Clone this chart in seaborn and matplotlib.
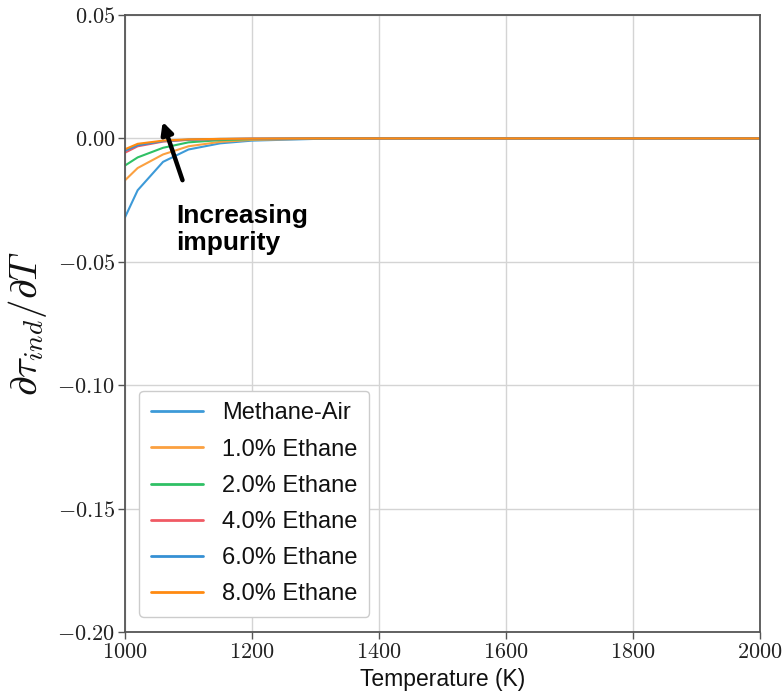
import numpy as np
import pandas as pd
import matplotlib
matplotlib.use("Agg")
import matplotlib.pyplot as plt
import seaborn as sns

# Temperatures (K) at which the sensitivity was evaluated
temperature = [1000, 1020, 1060, 1100, 1150, 1200, 1300, 1400, 1600, 1800, 2000]

# d(tau_ind)/dT for each mixture
methane_air = [-0.032, -0.021, -0.0095, -0.0045, -0.0020, -0.0009, -0.0002, 0.0, 0.0, 0.0, 0.0]
ethane_1 = [-0.017, -0.012, -0.0065, -0.0032, -0.0014, -0.0006, -0.0001, 0.0, 0.0, 0.0, 0.0]
ethane_2 = [-0.011, -0.0077, -0.0038, -0.0016, -0.0007, -0.0003, -0.0001, 0.0, 0.0, 0.0, 0.0]
ethane_4 = [-0.0058, -0.0032, -0.0013, -0.0006, -0.0003, -0.0001, 0.0, 0.0, 0.0, 0.0, 0.0]
ethane_6 = [-0.0050, -0.0028, -0.0011, -0.0005, -0.0002, -0.0001, 0.0, 0.0, 0.0, 0.0, 0.0]
ethane_8 = [-0.0044, -0.0022, -0.0009, -0.0004, -0.0002, -0.0001, 0.0, 0.0, 0.0, 0.0, 0.0]

labels = ["Methane-Air", "1.0% Ethane", "2.0% Ethane", "4.0% Ethane", "6.0% Ethane", "8.0% Ethane"]
colors = ["#3d9ad8", "#fba040", "#2fc065", "#f05a64", "#3590d4", "#ff8a10"]

series = [methane_air, ethane_1, ethane_2, ethane_4, ethane_6, ethane_8]
frames = []
for lab, vals in zip(labels, series):
    frames.append(pd.DataFrame({"T": temperature, "dtau": vals, "mix": lab}))
df = pd.concat(frames, ignore_index=True)

sns.set_style("whitegrid")
plt.rcParams["mathtext.fontset"] = "cm"
plt.rcParams["font.family"] = ["Liberation Sans", "DejaVu Sans"]

fig = plt.figure(figsize=(7.83, 6.94), dpi=100)
ax = fig.add_axes([0.1596, 0.0893, 0.811, 0.8891])

sns.lineplot(data=df, x="T", y="dtau", hue="mix", hue_order=labels,
             palette=dict(zip(labels, colors)), linewidth=1.5, ax=ax, sort=False)

ax.set_xlim(1000, 2000)
ax.set_ylim(-0.20, 0.05)
xt = [1000, 1200, 1400, 1600, 1800, 2000]
yt = [-0.20, -0.15, -0.10, -0.05, 0.00, 0.05]
ax.set_xticks(xt)
ax.set_yticks(yt)
ax.set_xticklabels([f"${v}$" for v in xt], fontsize=16)
ax.set_yticklabels([f"${v:.2f}$" for v in yt], fontsize=16)

ax.grid(True, color="#d4d4d4", linewidth=1.0)
for sp in ax.spines.values():
    sp.set_visible(True)
    sp.set_color("#555555")
    sp.set_linewidth(1.3)
ax.tick_params(axis="both", direction="out", length=5, width=1, color="#555555",
               left=True, bottom=True, labelcolor="#222222", pad=2)

ax.set_xlabel("Temperature (K)", fontsize=16.5, labelpad=4, color="#111111")
ax.set_ylabel(r"$\partial\tau_{ind}/\partial T$", fontsize=28, labelpad=6, color="#111111")

ax.annotate("", xy=(1058, 0.0078), xytext=(1092, -0.018),
            arrowprops=dict(arrowstyle="-|>,head_length=0.7,head_width=0.35",
                            color="black", lw=3.2))
ax.text(1080, -0.0265, "Increasing\nimpurity", fontsize=19, fontweight="bold",
        va="top", ha="left", linespacing=1.15, color="black")

leg = ax.legend(loc="lower left", fontsize=17, frameon=True, handlelength=2.2,
                borderpad=0.5, labelspacing=0.6, handletextpad=0.8,
                bbox_to_anchor=(0.004, 0.005))
leg.get_frame().set_edgecolor("#cccccc")
leg.get_frame().set_linewidth(1.0)
leg.get_frame().set_alpha(1.0)
for text in leg.get_texts():
    text.set_color("#111111")
for line in leg.get_lines():
    line.set_linewidth(2.0)

fig.savefig("out.png", dpi=100)
